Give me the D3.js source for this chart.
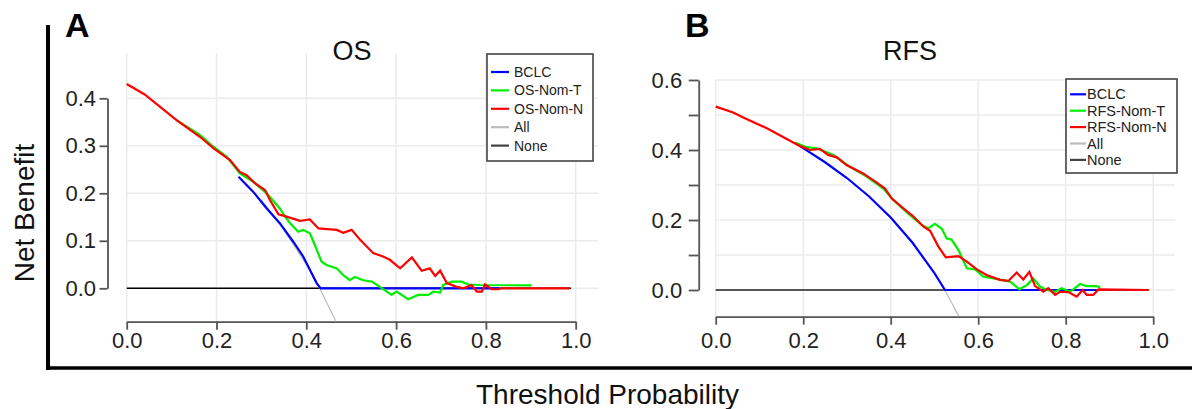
<!DOCTYPE html>
<meta charset="utf-8" />
<head>
  <script src="https://d3js.org/d3.v7.min.js"></script>
  <style>
    body { margin: 0; background: #fff; }
    text { font-family: "Liberation Sans", Arial, sans-serif; }
    .axis path, .axis line { stroke: #555; stroke-width: 1.8; }
    .axis text { fill: #222; }
  </style>
</head>
<body>
<svg id="chart" width="1192" height="409"></svg>
<script>
  const xTicks = [0, 0.2, 0.4, 0.6, 0.8, 1.0];
  const osYTicks = [0, 0.1, 0.2, 0.3, 0.4];
  const rfsYTicks = [0, 0.1, 0.2, 0.3, 0.4, 0.5, 0.6];
  const rfsYLabels = [0, 0.2, 0.4, 0.6];
  const osLegend = ["BCLC", "OS-Nom-T", "OS-Nom-N", "All", "None"];
  const rfsLegend = ["BCLC", "RFS-Nom-T", "RFS-Nom-N", "All", "None"];

  // [threshold probability, net benefit]; curves start where they leave the red one
  const osBclc = [[0.249,0.235],[0.282,0.203],[0.312,0.168],[0.341,0.137],[0.371,0.098],[0.393,0.067],[0.408,0.039],[0.423,0.011],[0.432,0],[0.83,0]];
  const osNomT = [[0.111,0.354],[0.163,0.323],[0.193,0.298],[0.223,0.277],[0.252,0.242],[0.282,0.224],[0.312,0.2],[0.341,0.168],[0.353,0.151],[0.364,0.137],[0.382,0.119],[0.393,0.123],[0.408,0.116],[0.416,0.098],[0.434,0.056],[0.445,0.049],[0.468,0.042],[0.482,0.028],[0.497,0.017],[0.508,0.024],[0.527,0.017],[0.546,0.014],[0.564,0.003],[0.59,-0.014],[0.601,-0.007],[0.627,-0.023],[0.649,-0.014],[0.672,-0.014],[0.683,-0.007],[0.698,-0.009],[0.705,0.007],[0.724,0.014],[0.746,0.014],[0.761,0.008],[0.787,0.007],[0.902,0.006]];
  const osNomN = [[0,0.43],[0.04,0.408],[0.111,0.354],[0.163,0.319],[0.193,0.295],[0.23,0.27],[0.252,0.245],[0.267,0.238],[0.286,0.221],[0.308,0.207],[0.319,0.186],[0.338,0.156],[0.356,0.151],[0.386,0.142],[0.408,0.145],[0.427,0.126],[0.468,0.123],[0.482,0.117],[0.501,0.123],[0.52,0.102],[0.549,0.074],[0.571,0.067],[0.586,0.06],[0.609,0.042],[0.635,0.065],[0.657,0.037],[0.675,0.042],[0.687,0.026],[0.698,0.037],[0.713,0.011],[0.735,0.003],[0.75,0],[0.768,0.007],[0.78,-0.007],[0.791,-0.007],[0.798,0.008],[0.813,-0.002],[0.828,-0.002],[0.835,0],[0.987,0]];
  const osAll = [[0.3,0.186],[0.35,0.123],[0.4,0.05],[0.43,0],[0.466,-0.07]];
  const osNone = [[0,0],[0.99,0]];

  const rfsBclc = [[0.193,0.411],[0.25,0.365],[0.3,0.32],[0.35,0.268],[0.4,0.207],[0.45,0.135],[0.5,0.048],[0.524,0],[0.87,0]];
  const rfsNomT = [[0.181,0.421],[0.208,0.408],[0.231,0.405],[0.269,0.386],[0.307,0.352],[0.345,0.324],[0.383,0.29],[0.406,0.257],[0.444,0.214],[0.471,0.186],[0.486,0.176],[0.501,0.189],[0.517,0.175],[0.528,0.147],[0.539,0.144],[0.555,0.114],[0.574,0.062],[0.593,0.059],[0.612,0.038],[0.635,0.033],[0.673,0.024],[0.694,0.002],[0.711,0.014],[0.726,0.033],[0.741,0.01],[0.757,0],[0.776,-0.005],[0.791,0.005],[0.81,-0.005],[0.833,0.017],[0.848,0.011],[0.871,0.011],[0.879,0.007]];
  const rfsNomN = [[0,0.524],[0.04,0.507],[0.063,0.493],[0.117,0.462],[0.193,0.411],[0.216,0.4],[0.238,0.403],[0.257,0.386],[0.277,0.379],[0.299,0.357],[0.337,0.333],[0.36,0.314],[0.387,0.29],[0.402,0.262],[0.429,0.233],[0.452,0.21],[0.475,0.181],[0.49,0.169],[0.509,0.124],[0.526,0.093],[0.555,0.097],[0.574,0.081],[0.597,0.059],[0.619,0.043],[0.65,0.029],[0.669,0.026],[0.688,0.05],[0.703,0.03],[0.717,0.052],[0.73,0.011],[0.749,-0.005],[0.76,0.005],[0.776,-0.014],[0.787,-0.005],[0.806,-0.006],[0.825,-0.019],[0.839,0],[0.848,-0.014],[0.863,-0.014],[0.875,0.002],[0.99,0]];
  const rfsAll = [[0.4,0.207],[0.45,0.135],[0.5,0.048],[0.524,0],[0.555,-0.074]];
  const rfsNone = [[0,0],[0.99,0]];

  const colors = ["#0000ff", "#00ee00", "#ff0000", "#bdbdbd", "#000"];
  const fmt = d3.format(".1f");
  const svg = d3.select("#chart");

  const panel = (o) => {
    const x = d3.scaleLinear().domain([0, 1]).range(o.xr);
    const y = d3.scaleLinear().domain([0, o.yTop]).range(o.yr);
    const g = svg.append("g");

    // grid
    g.selectAll(".hg").data(o.yTicks).enter().append("line")
      .attr("x1", x(0)).attr("x2", x(1.05))
      .attr("y1", (d) => y(d)).attr("y2", (d) => y(d))
      .attr("stroke", "#ebebeb").attr("stroke-width", 1.5);
    g.selectAll(".vg").data(xTicks).enter().append("line")
      .attr("x1", (d) => x(d)).attr("x2", (d) => x(d))
      .attr("y1", o.plotTop).attr("y2", o.xAxisY)
      .attr("stroke", "#ebebeb").attr("stroke-width", 1.5);

    // axes
    const xa = g.append("g").attr("class", "axis")
      .attr("transform", `translate(0,${o.xAxisY})`)
      .call(d3.axisBottom(x).tickValues(xTicks).tickFormat(fmt).tickSize(8).tickSizeOuter(0));
    xa.selectAll("text").attr("y", o.xLabelY - o.xAxisY).attr("dy", 0).style("font-size", "22px");

    const ya = g.append("g").attr("class", "axis")
      .attr("transform", `translate(${o.yAxisX},0)`)
      .call(d3.axisLeft(y).tickValues(o.yTicks)
        .tickFormat((d) => (o.yLabels.includes(d) ? fmt(d) : ""))
        .tickSize(o.yTick).tickPadding(o.yPad).tickSizeOuter(0));
    ya.selectAll("text").style("font-size", "22px");

    // curves
    const line = d3.line().x((d) => x(d[0])).y((d) => y(d[1]));
    g.append("path").attr("d", line(o.none)).attr("fill", "none")
      .attr("stroke", o.noneColor).attr("stroke-width", o.noneWidth);
    g.append("path").attr("d", line(o.all)).attr("fill", "none")
      .attr("stroke", colors[3]).attr("stroke-width", 1.2);
    g.selectAll(".curve").data(o.series).enter().append("path")
      .attr("d", (d) => line(d)).attr("fill", "none")
      .attr("stroke", (d, i) => colors[i]).attr("stroke-width", 2.2);

    // title
    g.append("text").attr("x", o.titleX).attr("y", 60).attr("text-anchor", "middle")
      .style("font-size", "27px").attr("fill", "#111").text(o.title);
    g.append("text").attr("x", o.letterX).attr("y", 37)
      .style("font-size", "34px").style("font-weight", "bold").text(o.letter);

    // legend
    const lg = g.append("g");
    lg.append("rect").attr("x", o.lg.x).attr("y", o.lg.y)
      .attr("width", o.lg.w).attr("height", o.lg.h)
      .attr("fill", "#fff").attr("stroke", "#444").attr("stroke-width", 1.6);
    const rows = lg.selectAll(".row").data(o.legend).enter().append("g")
      .attr("transform", (d, i) => `translate(0,${o.lg.row0 + i * o.lg.step})`);
    rows.append("line").attr("x1", o.lg.l0).attr("x2", o.lg.l1)
      .attr("stroke", (d, i) => (i === 4 ? "#444" : colors[i])).attr("stroke-width", 2.2);
    rows.append("text").attr("x", o.lg.tx).attr("y", 5)
      .style("font-size", o.lg.fs).attr("fill", "#222").text((d) => d);
  };

  panel({
    xr: [126.7, 575.7], yTop: 0.4, yr: [288.3, 98.3], yTicks: osYTicks, yLabels: osYTicks,
    plotTop: 53, xAxisY: 321.7, xLabelY: 348, yAxisX: 107.5, yTick: 8, yPad: 3.5,
    series: [osBclc, osNomT, osNomN], all: osAll, none: osNone, noneColor: "#000", noneWidth: 1.5,
    title: "OS", titleX: 352, letter: "A", letterX: 65, legend: osLegend,
    lg: { x: 487, y: 54, w: 106, h: 107, row0: 72, step: 18.4, l0: 491, l1: 509, tx: 514, fs: "14px" },
  });

  panel({
    xr: [715.7, 1153.2], yTop: 0.6, yr: [290, 80], yTicks: rfsYTicks, yLabels: rfsYLabels,
    plotTop: 80, xAxisY: 316.7, xLabelY: 348, yAxisX: 698.7, yTick: 10, yPad: 6.5,
    series: [rfsBclc, rfsNomT, rfsNomN], all: rfsAll, none: rfsNone, noneColor: "#555", noneWidth: 2,
    title: "RFS", titleX: 910, letter: "B", letterX: 685, legend: rfsLegend,
    lg: { x: 1066, y: 79, w: 111, h: 94, row0: 94.3, step: 16.4, l0: 1070, l1: 1086, tx: 1087, fs: "14.5px" },
  });

  // outer frame and shared labels
  svg.append("line").attr("x1", 48).attr("x2", 48).attr("y1", 25).attr("y2", 370)
    .attr("stroke", "#000").attr("stroke-width", 4);
  svg.append("line").attr("x1", 46).attr("x2", 1192).attr("y1", 368).attr("y2", 368)
    .attr("stroke", "#000").attr("stroke-width", 3.5);
  svg.append("text").attr("transform", "translate(34,213) rotate(-90)")
    .attr("text-anchor", "middle").style("font-size", "28px").attr("fill", "#111").text("Net Benefit");
  svg.append("text").attr("x", 607.5).attr("y", 404).attr("text-anchor", "middle")
    .style("font-size", "28px").attr("fill", "#111").text("Threshold Probability");
</script>
</body>
